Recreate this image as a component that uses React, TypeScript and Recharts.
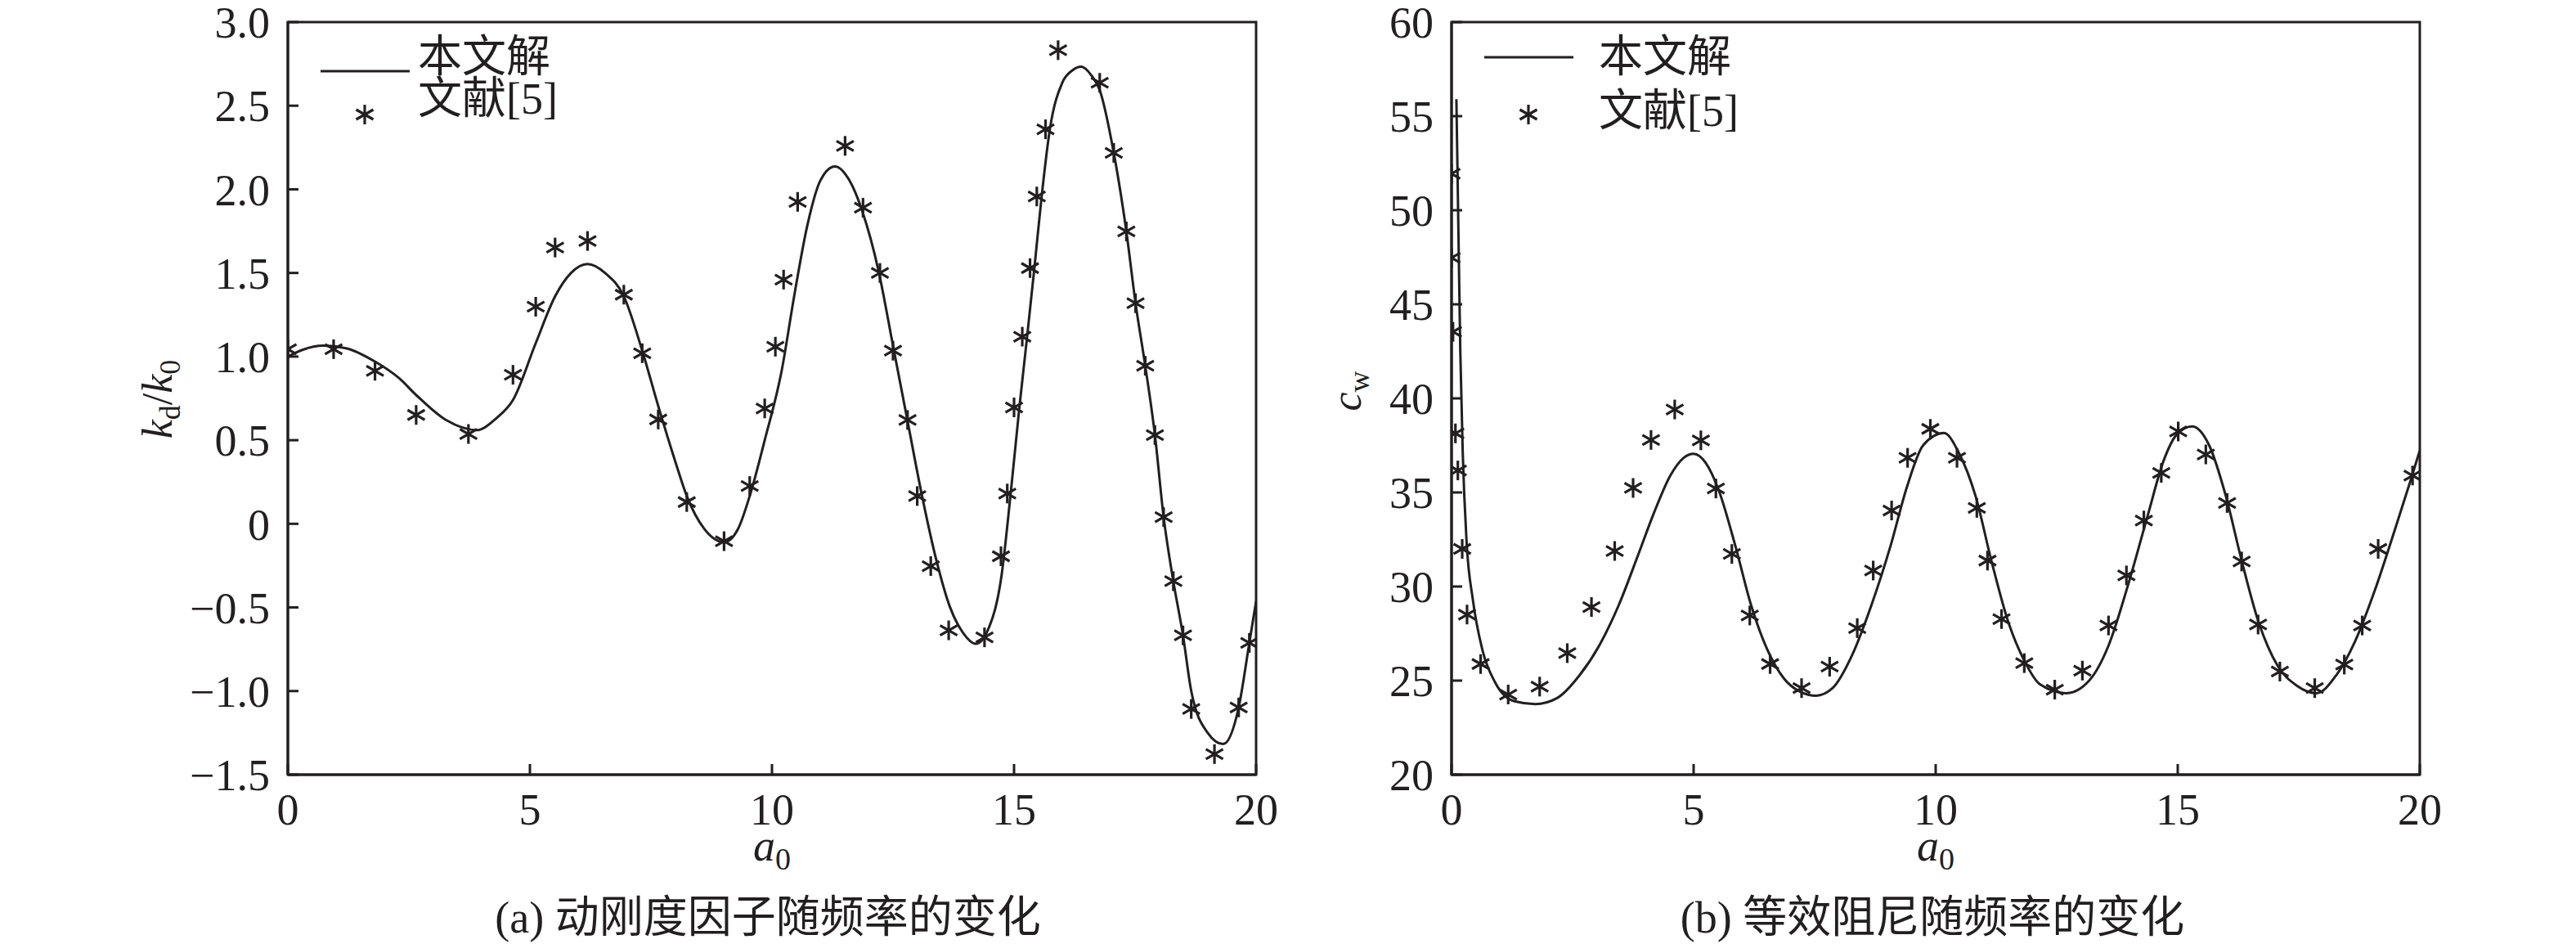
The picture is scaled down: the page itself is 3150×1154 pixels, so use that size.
import React from 'react';
import { ComposedChart, Line, Scatter, XAxis, YAxis, ReferenceArea } from 'recharts';

const INK = '#231f20';
const SERIF = '"Liberation Serif", "Times New Roman", serif';
const CJK = '"Liberation Serif", "Noto Sans CJK SC", serif';

// ---------- shared axis ----------
const X_TICKS = [0, 5, 10, 15, 20];
const X_TICK_LABELS = ['0', '5', '10', '15', '20'];

// ---------- panel (a) ----------
const LEFT_Y_TICKS = [-1.5, -1, -0.5, 0, 0.5, 1, 1.5, 2, 2.5, 3];
const LEFT_Y_LABELS = ['−1.5', '−1.0', '−0.5', '0', '0.5', '1.0', '1.5', '2.0', '2.5', '3.0'];

const LEFT_CURVE_A = [0, 0.3, 0.73, 1.2, 1.8, 2.3, 2.65, 3.27, 3.9, 4.3, 4.65, 5.12, 5.52, 5.85, 6.19, 6.55, 6.94, 7.32, 7.65, 8.0, 8.24, 8.6, 9.01, 9.3, 9.54, 9.85, 10.2, 10.46, 10.73, 11.0, 11.3, 11.6, 11.86, 12.2, 12.5, 12.8, 13.1, 13.4, 13.67, 13.94, 14.21, 14.47, 14.74, 14.93, 15.11, 15.27, 15.42, 15.57, 15.74, 16.0, 16.2, 16.39, 16.6, 16.77, 17.06, 17.32, 17.51, 17.71, 17.91, 18.09, 18.29, 18.49, 18.66, 19.0, 19.32, 19.64, 19.86, 20.0];
const LEFT_CURVE_V = [1.0, 1.04, 1.065, 1.05, 0.97, 0.87, 0.77, 0.62, 0.56, 0.63, 0.74, 1.08, 1.36, 1.5, 1.553, 1.5, 1.36, 1.035, 0.705, 0.375, 0.166, -0.03, -0.11, -0.03, 0.166, 0.5, 0.915, 1.364, 1.784, 2.053, 2.137, 2.053, 1.874, 1.514, 1.065, 0.615, 0.166, -0.223, -0.493, -0.649, -0.718, -0.628, -0.313, 0.18, 0.696, 1.119, 1.529, 1.957, 2.359, 2.64, 2.71, 2.733, 2.68, 2.593, 2.218, 1.748, 1.319, 0.945, 0.531, 0.04, -0.343, -0.667, -1.0, -1.25, -1.317, -1.098, -0.712, -0.463];

const LEFT_PTS_A = [0, 0.945, 1.8, 2.65, 3.73, 4.65, 5.12, 5.52, 6.19, 6.94, 7.32, 7.65, 8.24, 9.01, 9.54, 9.85, 10.07, 10.24, 10.53, 11.51, 11.88, 12.23, 12.5, 12.8, 13.0, 13.28, 13.65, 14.39, 14.73, 14.86, 15.0, 15.17, 15.33, 15.47, 15.65, 15.91, 16.77, 17.06, 17.32, 17.51, 17.71, 17.91, 18.09, 18.29, 18.49, 18.66, 19.14, 19.64, 19.86];
const LEFT_PTS_V = [1.044, 1.044, 0.915, 0.651, 0.537, 0.891, 1.298, 1.652, 1.691, 1.37, 1.02, 0.624, 0.13, -0.104, 0.226, 0.69, 1.059, 1.46, 1.925, 2.26, 1.89, 1.5, 1.035, 0.621, 0.166, -0.253, -0.637, -0.679, -0.194, 0.181, 0.696, 1.119, 1.529, 1.957, 2.359, 2.832, 2.637, 2.218, 1.748, 1.319, 0.945, 0.531, 0.04, -0.343, -0.667, -1.107, -1.377, -1.098, -0.712];

// ---------- panel (b) ----------
const RIGHT_Y_TICKS = [20, 25, 30, 35, 40, 45, 50, 55, 60];
const RIGHT_Y_LABELS = ['20', '25', '30', '35', '40', '45', '50', '55', '60'];

const RIGHT_CURVE_A = [0.1, 0.15, 0.18, 0.23, 0.31, 0.44, 0.64, 0.9, 1.3, 1.73, 2.18, 2.64, 3.05, 3.45, 3.85, 4.18, 4.52, 4.79, 5.0, 5.25, 5.52, 5.86, 6.19, 6.53, 6.86, 7.2, 7.53, 7.87, 8.27, 8.67, 9.07, 9.4, 9.74, 10.17, 10.48, 10.82, 11.15, 11.49, 11.83, 12.16, 12.7, 13.17, 13.57, 13.97, 14.38, 14.71, 14.98, 15.3, 15.65, 15.99, 16.32, 16.66, 17.06, 17.46, 17.87, 18.27, 18.67, 19.07, 19.48, 19.81, 20.0];
const RIGHT_CURVE_V = [55.9, 47.5, 42.6, 37.2, 32.4, 29.3, 26.6, 24.9, 23.9, 23.75, 24.07, 25.27, 26.86, 28.99, 31.65, 33.91, 35.9, 36.83, 37.05, 36.57, 35.11, 32.18, 28.99, 26.6, 25.13, 24.41, 24.2, 24.6, 26.33, 28.99, 32.18, 35.24, 37.5, 38.16, 37.1, 34.84, 31.38, 28.19, 26.06, 24.79, 24.33, 25.0, 26.86, 30.05, 33.78, 36.7, 38.08, 38.51, 37.5, 34.84, 31.38, 28.19, 25.8, 24.73, 24.33, 25.27, 27.13, 29.79, 32.98, 35.64, 37.23];

const RIGHT_PTS_A = [0, 0, 0.03, 0.08, 0.13, 0.22, 0.32, 0.6, 1.17, 1.82, 2.39, 2.89, 3.37, 3.75, 4.12, 4.61, 5.15, 5.46, 5.79, 6.16, 6.58, 7.23, 7.81, 8.38, 8.71, 9.09, 9.42, 9.89, 10.44, 10.85, 11.07, 11.36, 11.83, 12.46, 13.03, 13.57, 13.94, 14.3, 14.66, 15.01, 15.58, 16.02, 16.32, 16.66, 17.11, 17.83, 18.44, 18.81, 19.14, 19.85];
const RIGHT_PTS_V = [51.94, 47.47, 43.54, 38.14, 36.17, 32.0, 28.51, 25.88, 24.26, 24.68, 26.46, 28.91, 31.89, 35.24, 37.79, 39.41, 37.77, 35.21, 31.73, 28.46, 25.88, 24.6, 25.74, 27.79, 30.85, 34.04, 36.84, 38.38, 36.84, 34.18, 31.38, 28.27, 25.93, 24.52, 25.53, 27.93, 30.59, 33.51, 36.04, 38.24, 37.02, 34.44, 31.33, 27.98, 25.48, 24.6, 25.85, 27.93, 32.0, 35.9];

const LEGEND_LINE = '本文解';
const LEGEND_PTS = '文献[5]';
const CAPTION_A = '(a) 动刚度因子随频率的变化';
const CAPTION_B = '(b) 等效阻尼随频率的变化';

const zip = (xs: number[], ys: number[]) => xs.map((a, i) => ({ a, v: ys[i] }));

const Asterisk = (props: any) => {
  const { cx, cy } = props;
  if (cx == null || cy == null) return null;
  return (
    <g stroke={INK} strokeWidth={3.2} strokeLinecap="butt">
      <line x1={cx} y1={cy - 12} x2={cx} y2={cy + 12} />
      <line x1={cx - 10.5} y1={cy - 6} x2={cx + 10.5} y2={cy + 6} />
      <line x1={cx - 10.5} y1={cy + 6} x2={cx + 10.5} y2={cy - 6} />
    </g>
  );
};

const TOP = 27;
const PLOT_H = 920;
const PLOT_W = 1184;
const CHART_H = 1154;

type PanelProps = {
  left: number;
  width: number;
  plotLeft: number;
  yTicks: number[];
  yLabels: string[];
  yDomain: [number, number];
  curve: { a: number; v: number }[];
  pts: { a: number; v: number }[];
  yTitle: React.ReactNode;
  yTitleX: number;
  yTitleY: number;
  caption: string;
  captionDx: number;
};

const Panel = (p: PanelProps) => {
  const yAxisW = 100;
  const xAxisH = 60;
  const margin = {
    top: TOP,
    left: p.plotLeft - yAxisW,
    right: p.width - p.plotLeft - PLOT_W,
    bottom: CHART_H - TOP - PLOT_H - xAxisH,
  };
  const cx = p.plotLeft + PLOT_W / 2;
  const axisBottom = TOP + PLOT_H;
  const xLabel = () => (
    <g>
      <text x={cx} y={axisBottom + 105} textAnchor="middle" fill={INK} fontFamily={SERIF} fontSize={54}>
        <tspan fontStyle="italic">a</tspan>
        <tspan fontSize={38} dy={11}>0</tspan>
      </text>
      <text x={cx + p.captionDx} y={1140} textAnchor="middle" fill={INK} fontFamily={CJK} fontSize={54}>
        {p.caption}
      </text>
    </g>
  );
  const yLabel = () => (
    <text
      x={p.yTitleX}
      y={p.yTitleY}
      transform={`rotate(-90 ${p.yTitleX} ${p.yTitleY})`}
      textAnchor="middle"
      fill={INK}
      fontFamily={SERIF}
      fontSize={52}
    >
      {p.yTitle}
    </text>
  );
  const fmtX = (v: number) => X_TICK_LABELS[X_TICKS.indexOf(v)] ?? String(v);
  const fmtY = (v: number) => {
    const i = p.yTicks.findIndex((t) => Math.abs(t - v) < 1e-9);
    return i >= 0 ? p.yLabels[i] : String(v);
  };
  return (
    <div style={{ position: 'absolute', left: p.left, top: 0, width: p.width, height: CHART_H }}>
      <ComposedChart width={p.width} height={CHART_H} margin={margin}>
        <XAxis
          type="number"
          dataKey="a"
          domain={[0, 20]}
          ticks={X_TICKS}
          interval={0}
          tickFormatter={fmtX}
          tickSize={-13}
          tickMargin={36}
          height={xAxisH}
          axisLine={{ stroke: INK, strokeWidth: 3 }}
          tickLine={{ stroke: INK, strokeWidth: 3 }}
          tick={{ fill: INK, fontSize: 54, fontFamily: SERIF }}
          allowDataOverflow
          label={xLabel}
        />
        <YAxis
          type="number"
          dataKey="v"
          domain={p.yDomain}
          ticks={p.yTicks}
          interval={0}
          tickFormatter={fmtY}
          tickSize={-13}
          tickMargin={35}
          width={yAxisW}
          axisLine={{ stroke: INK, strokeWidth: 3 }}
          tickLine={{ stroke: INK, strokeWidth: 3 }}
          tick={{ fill: INK, fontSize: 54, fontFamily: SERIF }}
          allowDataOverflow
          label={yLabel}
        />
        <ReferenceArea
          x1={0}
          x2={20}
          y1={p.yDomain[0]}
          y2={p.yDomain[1]}
          fill="none"
          fillOpacity={0}
          stroke={INK}
          strokeWidth={3}
          ifOverflow="visible"
        />
        <Line
          data={p.curve}
          dataKey="v"
          type="monotone"
          stroke={INK}
          strokeWidth={3}
          dot={false}
          activeDot={false}
          isAnimationActive={false}
        />
        <Scatter data={p.pts} dataKey="v" shape={Asterisk} isAnimationActive={false} />
      </ComposedChart>
    </div>
  );
};

const LegendBlock = (props: {
  lineX1: number;
  lineX2: number;
  lineY: number;
  textX: number;
  row1: number;
  row2: number;
  markX: number;
  markY: number;
}) => (
  <g>
    <line x1={props.lineX1} y1={props.lineY} x2={props.lineX2} y2={props.lineY} stroke={INK} strokeWidth={3} />
    <text x={props.textX} y={props.row1} fill={INK} fontFamily={CJK} fontSize={54}>
      {LEGEND_LINE}
    </text>
    <Asterisk cx={props.markX} cy={props.markY} />
    <text x={props.textX} y={props.row2} fill={INK} fontFamily={CJK} fontSize={54}>
      {LEGEND_PTS}
    </text>
  </g>
);

export default function App() {
  const leftCurve = zip(LEFT_CURVE_A, LEFT_CURVE_V);
  const leftPts = zip(LEFT_PTS_A, LEFT_PTS_V);
  const rightCurve = zip(RIGHT_CURVE_A, RIGHT_CURVE_V);
  const rightPts = zip(RIGHT_PTS_A, RIGHT_PTS_V);
  return (
    <div style={{ position: 'absolute', left: 0, top: 0, width: 3150, height: 1154, background: '#fff' }}>
      <Panel
        left={0}
        width={1600}
        plotLeft={352}
        yTicks={LEFT_Y_TICKS}
        yLabels={LEFT_Y_LABELS}
        yDomain={[-1.5, 3]}
        curve={leftCurve}
        pts={leftPts}
        yTitle={
          <>
            <tspan fontStyle="italic">k</tspan>
            <tspan fontSize={36} dy={10}>d</tspan>
            <tspan dy={-10}>/</tspan>
            <tspan fontStyle="italic">k</tspan>
            <tspan fontSize={36} dy={10}>0</tspan>
          </>
        }
        yTitleX={210}
        yTitleY={488}
        caption={CAPTION_A}
        captionDx={-5}
      />
      <Panel
        left={1600}
        width={1550}
        plotLeft={175}
        yTicks={RIGHT_Y_TICKS}
        yLabels={RIGHT_Y_LABELS}
        yDomain={[20, 60]}
        curve={rightCurve}
        pts={rightPts}
        yTitle={
          <>
            <tspan fontStyle="italic">c</tspan>
            <tspan fontSize={36} dy={10}>w</tspan>
          </>
        }
        yTitleX={64}
        yTitleY={478}
        caption={CAPTION_B}
        captionDx={-4}
      />
      <svg
        width={3150}
        height={1154}
        style={{ position: 'absolute', left: 0, top: 0, pointerEvents: 'none' }}
      >
        <LegendBlock lineX1={392} lineX2={501} lineY={87} textX={511} row1={88} row2={139} markX={446} markY={140} />
        <LegendBlock lineX1={1815} lineX2={1924} lineY={70} textX={1955} row1={88} row2={154} markX={1869} markY={140} />
      </svg>
    </div>
  );
}
